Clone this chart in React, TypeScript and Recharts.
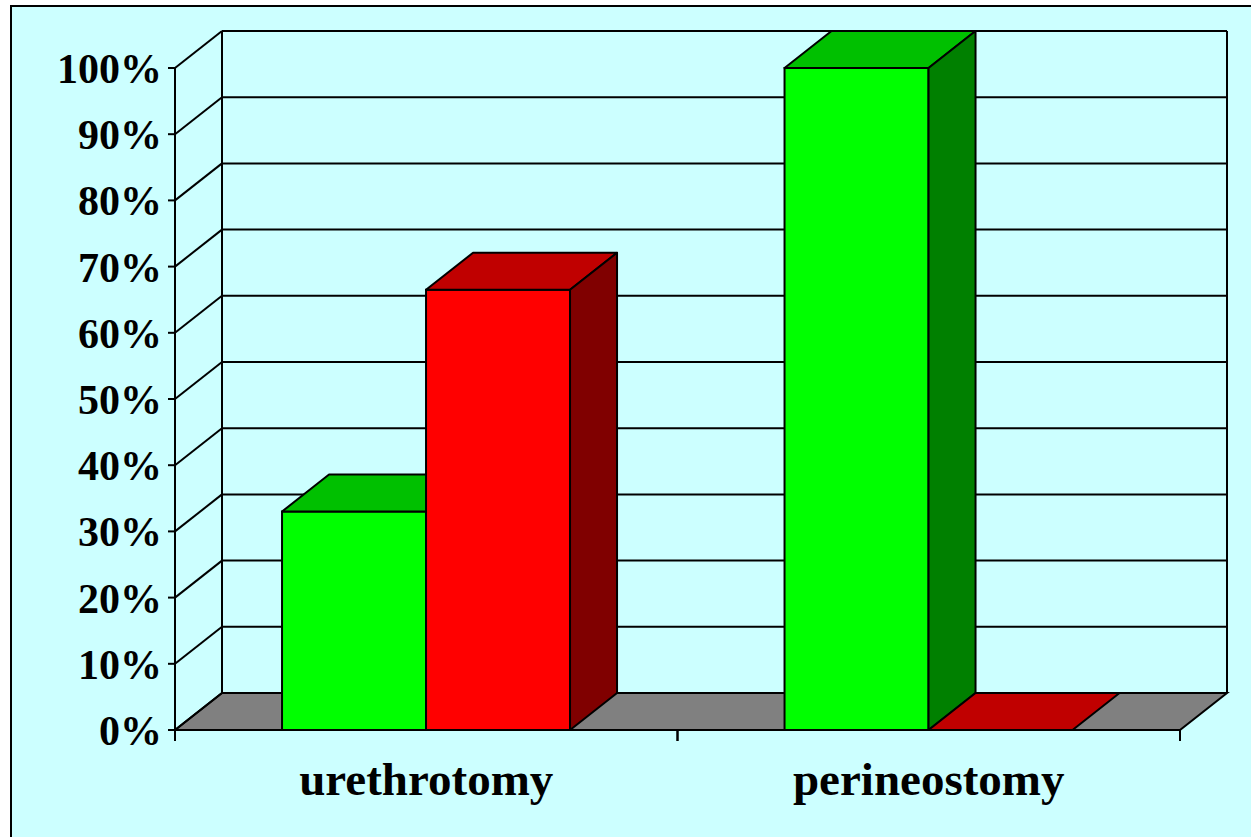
import React from 'react';
import { BarChart, Bar, XAxis, YAxis, CartesianGrid } from 'recharts';

const categories = ['urethrotomy', 'perineostomy'];
const greenValues = [33, 100];
const redValues = [66.5, 0];
const yTicks = [0, 10, 20, 30, 40, 50, 60, 70, 80, 90, 100];

const data = categories.map((name, i) => ({
  name,
  green: greenValues[i],
  red: redValues[i],
}));

// depth of the fake 3D box
const DX = 47;
const DY = 37;

const FONT = '"Liberation Serif", "Times New Roman", serif';

const CHART_W = 1251;
const CHART_H = 837;
const MARGIN = { top: 68, right: 71, left: 55, bottom: 37 };
const X_AXIS_H = 70;
const PLOT_TOP = MARGIN.top;
const PLOT_BOTTOM = CHART_H - MARGIN.bottom - X_AXIS_H;

const makeBar3D = (front: string, top: string, side: string) => (props: any) => {
  const { x, y, width, height } = props;
  if (x == null || y == null) return null;
  const h = Math.max(0, height || 0);
  const w = width;
  return (
    <g>
      {h > 0 && (
        <rect x={x} y={y} width={w} height={h} fill={front} stroke="#000" strokeWidth={2} />
      )}
      <polygon
        points={`${x},${y} ${x + DX},${y - DY} ${x + w + DX},${y - DY} ${x + w},${y}`}
        fill={top}
        stroke="#000"
        strokeWidth={2}
        strokeLinejoin="round"
      />
      {h > 0 && (
        <polygon
          points={`${x + w},${y} ${x + w + DX},${y - DY} ${x + w + DX},${y + h - DY} ${x + w},${y + h}`}
          fill={side}
          stroke="#000"
          strokeWidth={2}
          strokeLinejoin="round"
        />
      )}
    </g>
  );
};

const GreenBar = makeBar3D('#00FF00', '#00C000', '#008000');
const RedBar = makeBar3D('#FF0000', '#C00000', '#800000');

// back wall lines + floor, drawn from the y axis tick positions
const gridLine = (props: any) => {
  const { x1, x2, y1, index } = props;
  const top = props.y != null ? props.y : PLOT_TOP;
  const bottom = props.height != null && props.y != null ? props.y + props.height : PLOT_BOTTOM;
  const isFloor = Math.abs(y1 - bottom) < 0.5;
  const isTop = Math.abs(y1 - top) < 0.5;
  return (
    <g key={`grid-${index}`}>
      {isFloor && (
        <polygon
          points={`${x1},${y1} ${x1 + DX},${y1 - DY} ${x2 + DX},${y1 - DY} ${x2},${y1}`}
          fill="#808080"
          stroke="#000"
          strokeWidth={2}
        />
      )}
      <line x1={x1} y1={y1} x2={x1 + DX} y2={y1 - DY} stroke="#000" strokeWidth={2} />
      <line x1={x1 + DX} y1={y1 - DY} x2={x2 + DX} y2={y1 - DY} stroke="#000" strokeWidth={2} />
      {isTop && (
        <>
          <line x1={x1 + DX} y1={y1 - DY} x2={x1 + DX} y2={bottom - DY} stroke="#000" strokeWidth={2} />
          <line x1={x2 + DX} y1={y1 - DY} x2={x2 + DX} y2={bottom - DY} stroke="#000" strokeWidth={2} />
        </>
      )}
    </g>
  );
};

const CategoryTick = (props: any) => {
  const { x, y, payload } = props;
  const half = payload && payload.offset ? payload.offset : 251;
  return (
    <g>
      <line x1={x - half} y1={y} x2={x - half} y2={y + 11} stroke="#000" strokeWidth={2} />
      <line x1={x + half} y1={y} x2={x + half} y2={y + 11} stroke="#000" strokeWidth={2} />
      <text
        x={x}
        y={y + 65}
        textAnchor="middle"
        fontFamily={FONT}
        fontWeight="bold"
        fontSize={47}
        fill="#000"
      >
        {payload.value}
      </text>
    </g>
  );
};

export default function App() {
  return (
    <div
      style={{
        position: 'fixed',
        left: 0,
        top: 0,
        width: CHART_W,
        height: CHART_H,
        overflow: 'hidden',
        background: '#fff',
      }}
    >
      <div
        style={{
          position: 'absolute',
          left: 10,
          top: 5,
          width: 1300,
          height: 900,
          background: '#CCFFFF',
          borderLeft: '2px solid #000',
          borderTop: '2px solid #000',
        }}
      />
      <div style={{ position: 'absolute', left: 0, top: 0 }}>
        <BarChart
          width={CHART_W}
          height={CHART_H}
          data={data}
          margin={MARGIN}
          barCategoryGap="21.3%"
          barGap={0}
        >
          <CartesianGrid vertical={false} horizontal={gridLine} />
          <XAxis
            dataKey="name"
            height={X_AXIS_H}
            tickLine={false}
            tickSize={0}
            tickMargin={0}
            axisLine={{ stroke: '#000', strokeWidth: 2 }}
            tick={<CategoryTick />}
            interval={0}
          />
          <YAxis
            width={120}
            domain={[0, 100]}
            ticks={yTicks}
            tickFormatter={(v: number) => `${v}%`}
            tickSize={7}
            tickMargin={6}
            axisLine={{ stroke: '#000', strokeWidth: 2 }}
            tickLine={{ stroke: '#000', strokeWidth: 2 }}
            tick={{ fill: '#000', fontFamily: FONT, fontWeight: 'bold', fontSize: 42 }}
            interval={0}
          />
          <Bar dataKey="green" shape={GreenBar} isAnimationActive={false} />
          <Bar dataKey="red" shape={RedBar} isAnimationActive={false} />
        </BarChart>
      </div>
    </div>
  );
}
